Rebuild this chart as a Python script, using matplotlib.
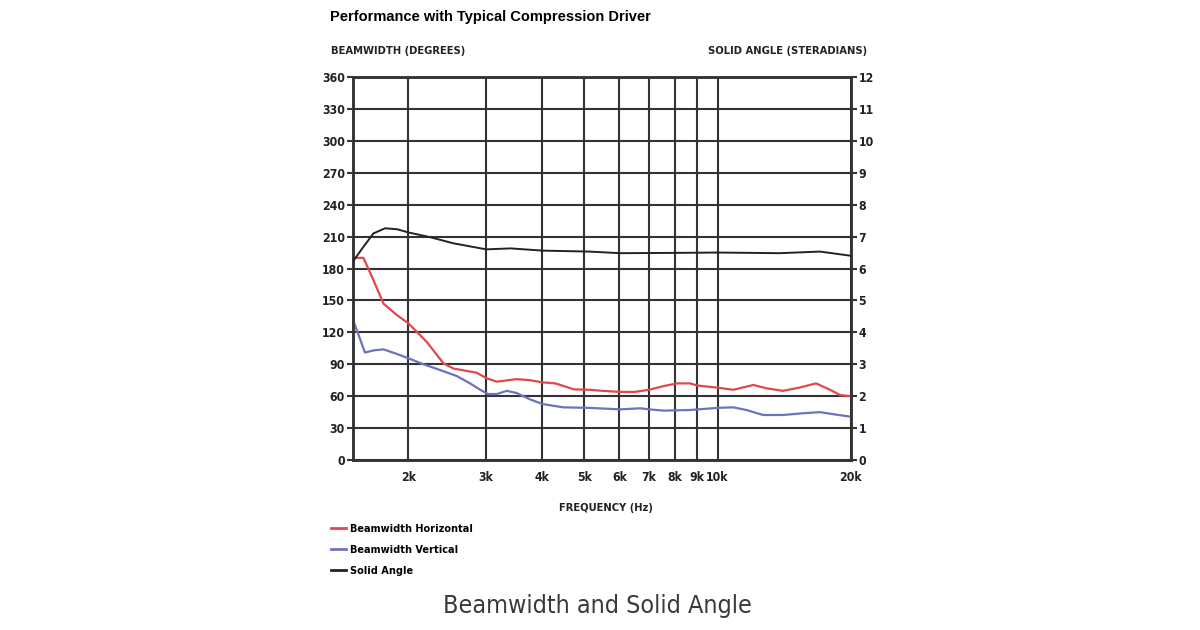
import matplotlib
matplotlib.use("Agg")
import matplotlib.pyplot as plt
import matplotlib.transforms as mtransforms
from matplotlib.ticker import FixedLocator, NullLocator, FixedFormatter
from matplotlib import font_manager
from matplotlib.font_manager import FontProperties
from matplotlib.lines import Line2D

# ---------------- data ----------------
freq_h = [1497, 1583, 1668, 1757, 1887, 2000, 2201, 2399, 2527, 2855, 3000, 3170,
          3511, 3767, 4023, 4300, 4735, 5130, 5499, 6021, 6488, 7000, 7556, 8096,
          8668, 9000, 10000, 10856, 12046, 12900, 14056, 15290, 16700, 17960, 18930, 20000]
beam_h = [190, 190, 169, 147, 136, 128.5, 111, 91, 86, 82, 77, 73.6,
          76, 75, 73, 72, 66.4, 66, 65, 64, 64, 66, 69.5, 72,
          72, 70, 68, 66, 70.5, 67.4, 65, 68, 72, 66, 61, 60]

freq_v = [1497, 1596, 1668, 1757, 1887, 2000, 2163, 2358, 2571, 2758, 2906, 3032,
          3170, 3337, 3511, 3767, 4023, 4480, 5130, 6021, 6700, 7000, 7556, 8668,
          10000, 10856, 11620, 12680, 14056, 15550, 17040, 18300, 20000]
beam_v = [132.5, 101, 103, 104, 99.6, 95.6, 90, 84.6, 79, 72, 66, 62,
          62, 65, 63, 57, 52.6, 49.5, 49, 47.6, 48.6, 47.6, 46.4, 47,
          49, 49.5, 47, 42.3, 42.3, 43.9, 45, 43, 40.7]

freq_s = [1497, 1583, 1668, 1772, 1887, 2000, 2242, 2527, 3000, 3405, 4023, 5130,
          6021, 8200, 10000, 13800, 17040, 20000]
solid = [6.21, 6.68, 7.1, 7.26, 7.23, 7.13, 6.98, 6.79, 6.6, 6.63, 6.56, 6.53,
         6.48, 6.49, 6.5, 6.48, 6.53, 6.4]

x_ticks = [2000, 3000, 4000, 5000, 6000, 7000, 8000, 9000, 10000, 20000]
x_labels = ["2k", "3k", "4k", "5k", "6k", "7k", "8k", "9k", "10k", "20k"]
left_ticks = list(range(0, 361, 30))
right_ticks = list(range(0, 13))

# ---------------- fonts ----------------
def pick_condensed(bold):
    cands = []
    for f in font_manager.fontManager.ttflist:
        st = str(f.stretch).lower()
        nm = f.name
        isc = ("Narrow" in nm or "Condensed" in nm or
               st in ("condensed", "semi-condensed", "extra-condensed", "ultra-condensed")
               or "condensed" in f.fname.lower() or "narrow" in f.fname.lower())
        if not isc or f.style != "normal":
            continue
        try:
            w = int(f.weight)
        except Exception:
            w = 700 if "bold" in str(f.weight).lower() else 400
        score = abs(w - (700 if bold else 400))
        cands.append((score, f.fname))
    if cands:
        cands.sort()
        return cands[0][1]
    return None

fb = pick_condensed(True)
fr = pick_condensed(False)

def fp(size, bold=True):
    path = fb if bold else fr
    if path:
        return FontProperties(fname=path, size=size)
    return FontProperties(family="DejaVu Sans", weight="bold" if bold else "normal",
                          stretch="condensed", size=size * 0.85)

RED = "#e0474f"
BLUE = "#6c72bb"
BLACK = "#222222"
GRID = "#333333"

fig = plt.figure(figsize=(12, 6.3), dpi=100)
W, H = 1200, 630
x0, x1, ytop, ybot = 352.7, 850.7, 77, 460
ax = fig.add_axes([x0 / W, 1 - ybot / H, (x1 - x0) / W, (ybot - ytop) / H])
ax2 = ax.twinx()

ax.set_xscale("log")
ax.set_xlim(1497, 20000)
ax.set_ylim(0, 360)
ax2.set_ylim(0, 12)

ax.plot(freq_h, beam_h, color=RED, lw=1.6, zorder=5)
ax.plot(freq_v, beam_v, color=BLUE, lw=1.6, zorder=5)
ax2.plot(freq_s, solid, color=BLACK, lw=1.4, zorder=5)

ax.xaxis.set_major_locator(FixedLocator(x_ticks))
ax.xaxis.set_major_formatter(FixedFormatter(x_labels))
ax.xaxis.set_minor_locator(NullLocator())
ax.set_yticks(left_ticks)
ax2.set_yticks(right_ticks)

ax.grid(True, which="major", color=GRID, lw=1.5)
ax.set_axisbelow(True)

tfp = fp(8.8, True)
for lab in ax.get_xticklabels() + ax.get_yticklabels() + ax2.get_yticklabels():
    lab.set_fontproperties(tfp)
    lab.set_color("#222222")

ax.tick_params(axis="x", length=0, pad=8)
ax.tick_params(axis="y", length=4, width=1.5, color=GRID, pad=1.5)
ax2.tick_params(axis="y", length=4, width=1.5, color=GRID, pad=1.5)

for a in (ax, ax2):
    for s in a.spines.values():
        s.set_color(GRID)
        s.set_linewidth(1.8)

# texts
fig.text(330 / W, 1 - 17 / H, "Performance with Typical Compression Driver",
         family="Liberation Sans", weight="bold", size=10.5, va="center", ha="left")
fig.text(331 / W, 1 - 51 / H, "BEAMWIDTH (DEGREES)", fontproperties=fp(8, True),
         va="center", ha="left", color="#222222")
fig.text(867 / W, 1 - 51 / H, "SOLID ANGLE (STERADIANS)", fontproperties=fp(8, True),
         va="center", ha="right", color="#222222")
fig.text(606 / W, 1 - 508 / H, "FREQUENCY (Hz)", fontproperties=fp(8, True),
         va="center", ha="center", color="#222222")
fig.text(597 / W, 1 - 606 / H, "Beamwidth and Solid Angle", fontproperties=fp(18, False),
         va="center", ha="center", color="#3a3a3a")

# legend
handles = [Line2D([], [], color=RED, lw=2), Line2D([], [], color=BLUE, lw=2),
           Line2D([], [], color=BLACK, lw=2)]
labels = ["Beamwidth Horizontal", "Beamwidth Vertical", "Solid Angle"]
leg = fig.legend(handles, labels, loc="upper left",
                 bbox_to_anchor=(331 / W, 1 - 524 / H), frameon=False,
                 handlelength=1.4, handletextpad=0.35, labelspacing=1.0,
                 borderpad=0, borderaxespad=0, prop=fp(7.8, True))

fig.savefig("out.png", dpi=100)
